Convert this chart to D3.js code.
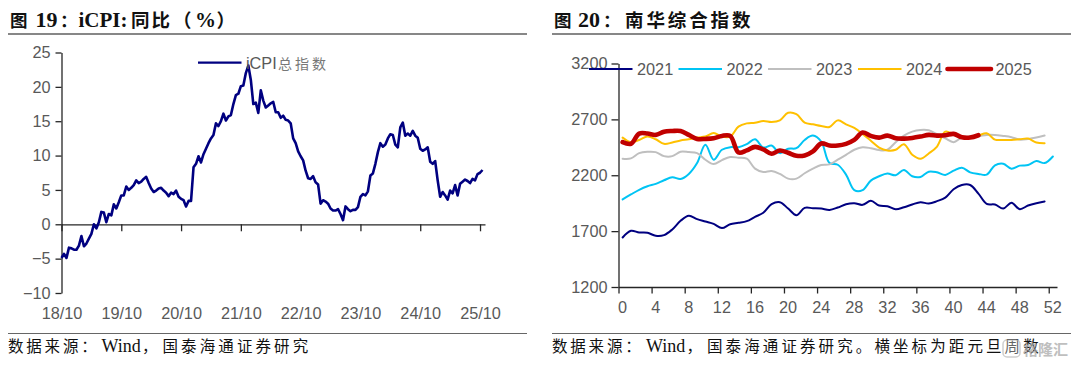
<!DOCTYPE html>
<html lang="zh">
<head>
    <meta charset="UTF-8">
    <title>iCPI 与南华综合指数</title>
    <script src="https://d3js.org/d3.v7.min.js"></script>
    <style>
        html, body { margin: 0; padding: 0; background: #fff; }
        svg { display: block; }
        .tick text, .lab { font-family: "Liberation Sans", Arial, sans-serif; font-size: 16.3px; fill: #595959; }
        .cjk { font-family: "Noto Sans CJK SC", sans-serif; }
        .latin { font-family: "Liberation Serif", serif; }
    </style>
</head>
<body>
    <svg width="1075" height="365"></svg>
    <script>
        // 图 19：半月取样，从 18/10 开始
        const icpiLabels = ["18/10", "19/10", "20/10", "21/10", "22/10", "23/10", "24/10", "25/10"];
        const icpiTicks = [-10, -5, 0, 5, 10, 15, 20, 25];
        const icpiValues = [
            -4.9, -4.3, -4.9, -3.4, -3.5, -3.7, -3.7, -3.1, -1.7, -3.2, -2.8, -2.1, -1.4, 0, -0.6, 0.3, 1.8, 1.7, 0.3, 1.5,
            1.3, 2.9, 2.3, 3.2, 4.2, 4.2, 5.5, 5, 5.3, 5.7, 6.4, 6, 6.2, 6.6, 6.9, 6, 5.2, 4.7, 4.9, 5.2,
            5.3, 4.9, 4.6, 4.1, 4.6, 4.4, 4.9, 4, 3.7, 3.5, 2.6, 3.4, 3.4, 8.3, 8.8, 9.9, 9, 10.2, 11, 11.8,
            12.5, 13, 14.7, 14.3, 15, 16.1, 15.1, 15.7, 15.9, 17.5, 18.8, 19, 20.1, 20.2, 22, 23.1, 21, 17.5, 17.7, 16.2,
            19.5, 18, 17, 17.3, 17.6, 17.8, 16.3, 16.3, 15.5, 15.8, 15.2, 15.1, 14.7, 12.5, 11.8, 10.6, 9.9, 9.3, 7.8, 6.7,
            6.6, 7, 6.1, 5.8, 3, 3.5, 3.3, 3, 2.3, 2, 2, 2.2, 1.5, 0.6, 2.6, 2.2, 1.9, 2.1, 2.1, 2.5,
            4, 4.4, 4.2, 4.8, 7.1, 7.4, 8.8, 10.5, 11.8, 11.3, 11.6, 12.5, 13.1, 13, 11.6, 11.2, 14.1, 14.8, 12.9, 13.2,
            12.9, 13.6, 12.9, 12.6, 11, 10.7, 10.9, 11.2, 9.1, 8.8, 9.2, 6.4, 4, 4.7, 4.2, 3.6, 4.9, 4.5, 5.7, 4.2,
            5.9, 6.2, 6.5, 6.3, 6, 6.6, 6.4, 7.3, 7.5, 7.9
        ];

        // 图 20：按距元旦周数
        const weeks = d3.range(0, 53);
        const weekLabels = d3.range(0, 53, 4);
        const nanhuaTicks = [1200, 1700, 2200, 2700, 3200];
        const y2021 = [1643, 1703, 1688, 1685, 1658, 1664, 1715, 1792, 1837, 1807, 1786, 1765, 1727, 1762, 1774, 1789, 1828, 1864, 1941, 1959, 1902, 1843, 1908, 1905, 1902, 1890, 1911, 1941, 1950, 1935, 1971, 1929, 1923, 1896, 1914, 1938, 1959, 1947, 1968, 2000, 2075, 2113, 2113, 2036, 1944, 1938, 1902, 1953, 1896, 1929, 1950, 1965];
        const y2022 = [1984, 2028, 2070, 2102, 2123, 2155, 2182, 2167, 2212, 2309, 2472, 2339, 2428, 2451, 2451, 2478, 2522, 2448, 2466, 2398, 2437, 2442, 2516, 2555, 2502, 2309, 2294, 2206, 2067, 2067, 2152, 2191, 2215, 2200, 2247, 2191, 2185, 2232, 2226, 2203, 2241, 2268, 2226, 2212, 2206, 2289, 2303, 2259, 2286, 2291, 2327, 2309, 2368];
        const y2023 = [2348, 2351, 2398, 2410, 2407, 2371, 2371, 2410, 2407, 2398, 2339, 2300, 2336, 2363, 2357, 2348, 2259, 2229, 2238, 2212, 2170, 2170, 2218, 2259, 2291, 2297, 2339, 2383, 2428, 2451, 2442, 2425, 2428, 2496, 2555, 2590, 2605, 2602, 2567, 2531, 2496, 2537, 2546, 2549, 2561, 2561, 2552, 2540, 2519, 2525, 2537, 2555];
        const y2024 = [2537, 2496, 2516, 2546, 2522, 2481, 2493, 2511, 2522, 2537, 2546, 2579, 2546, 2546, 2635, 2664, 2670, 2685, 2676, 2691, 2759, 2747, 2670, 2656, 2641, 2632, 2691, 2656, 2623, 2570, 2508, 2448, 2422, 2428, 2478, 2383, 2348, 2395, 2457, 2590, 2567, 2546, 2537, 2555, 2576, 2519, 2516, 2516, 2522, 2528, 2493, 2487];
        const y2025 = [2496, 2481, 2573, 2573, 2561, 2590, 2596, 2596, 2561, 2525, 2525, 2531, 2552, 2552, 2404, 2422, 2454, 2431, 2392, 2422, 2401, 2374, 2377, 2413, 2484, 2466, 2466, 2481, 2516, 2582, 2552, 2537, 2555, 2531, 2528, 2534, 2546, 2561, 2555, 2558, 2570, 2540, 2537, 2558];
        const seriesNames = ["2021", "2022", "2023", "2024", "2025"];
        const seriesValues = [y2021, y2022, y2023, y2024, y2025];
        const seriesColors = ["#000080", "#00C4F4", "#BFBFBF", "#FFC000", "#C00000"];
        const seriesWidths = [2, 2, 2, 2, 4.6];

        const svg = d3.select("svg");
        const axisColor = "#262626";

        function styleAxis(g) {
            g.selectAll(".domain, .tick line").attr("stroke", axisColor).attr("stroke-width", 1.3);
        }

        // 标题、脚注：每段 [文字, 字体类, 字号, 字距, x]
        function richText(y, weight, parts) {
            const t = svg.append("text").attr("y", y).attr("font-weight", weight).attr("fill", "#111");
            parts.forEach(p => {
                t.append("tspan").attr("class", p[1]).attr("font-size", p[2])
                    .attr("letter-spacing", p[3]).attr("x", p[4]).text(p[0]);
            });
        }

        richText(27, 700, [
            ["图", "cjk", 17.5, 0, 10], ["19", "latin", 22, 0, 35.5], ["：", "cjk", 17.5, 0, 60],
            ["iCPI:", "latin", 21, 0, 78.5], ["同比", "cjk", 18.5, 2, 131], ["（", "cjk", 18.5, 0, 173],
            ["%", "latin", 21, 0, 195], ["）", "cjk", 18.5, 0, 216.5]
        ]);
        richText(27, 700, [
            ["图", "cjk", 17.5, 0, 554], ["20", "latin", 22, 0, 578], ["：", "cjk", 17.5, 0, 603],
            ["南华综合指数", "cjk", 18.5, 2.9, 625]
        ]);
        richText(352, 400, [
            ["数据来源：", "cjk", 15.5, 2.8, 8], ["Wind", "latin", 18, 0, 101.5], ["，", "cjk", 15.5, 0, 142],
            ["国泰海通证券研究", "cjk", 15.5, 3.1, 162.5]
        ]);
        richText(352, 400, [
            ["数据来源：", "cjk", 15.5, 2.8, 552], ["Wind", "latin", 18, 0, 646], ["，", "cjk", 15.5, 0, 686.5],
            ["国泰海通证券研究。横坐标为距元旦周数", "cjk", 15.5, 3.1, 707]
        ]);

        [[8, 527], [552, 1071]].forEach(r => {
            svg.append("line").attr("x1", r[0]).attr("x2", r[1]).attr("y1", 34).attr("y2", 34)
                .attr("stroke", "#111").attr("stroke-width", 1.2);
            svg.append("line").attr("x1", r[0]).attr("x2", r[1]).attr("y1", 333.5).attr("y2", 333.5)
                .attr("stroke", "#666").attr("stroke-width", 1.2);
        });

        // ---------- 图 19 ----------
        const xIcpi = d3.scaleLinear().domain([0, 170]).range([61.5, 485]);
        const yIcpi = d3.scaleLinear().domain([-10, 25]).range([293, 52.5]);
        const icpiTickPos = icpiLabels.map((d, i) => i * 24);

        svg.append("g").attr("transform", "translate(61.5,0)")
            .call(d3.axisLeft(yIcpi).tickValues(icpiTicks).tickSize(6).tickPadding(5).tickSizeOuter(0))
            .call(styleAxis);
        svg.append("g").attr("transform", `translate(0,${yIcpi(0)})`)
            .call(d3.axisBottom(xIcpi).tickValues(icpiTickPos).tickSize(7).tickSizeOuter(0).tickFormat(""))
            .call(styleAxis);
        svg.append("g").attr("transform", "translate(0,293)")
            .call(d3.axisBottom(xIcpi).tickValues(icpiTickPos).tickSize(0).tickPadding(14).tickFormat((d, i) => icpiLabels[i]))
            .call(g => g.select(".domain").remove());

        svg.append("path").datum(icpiValues)
            .attr("fill", "none").attr("stroke", "#000080").attr("stroke-width", 2.6).attr("stroke-linejoin", "round")
            .attr("d", d3.line().x((d, i) => xIcpi(i)).y(d => yIcpi(d)));

        svg.append("line").attr("x1", 198).attr("x2", 241.5).attr("y1", 62.7).attr("y2", 62.7)
            .attr("stroke", "#000080").attr("stroke-width", 2.3);
        const icpiLegend = svg.append("text").attr("y", 68.5).attr("fill", "#595959");
        icpiLegend.append("tspan").attr("class", "lab").attr("x", 246).text("iCPI");
        icpiLegend.append("tspan").attr("class", "cjk").attr("x", 278).attr("font-size", 14)
            .attr("letter-spacing", 3).attr("fill", "#777").text("总指数");

        // ---------- 图 20 ----------
        const xBand = d3.scaleBand().domain(weeks).range([618.5, 1057]);
        const xEdge = d3.scaleLinear().domain([0, 53]).range([618.5, 1057]);
        const yNanhua = d3.scaleLinear().domain([1200, 3200]).range([287, 63.5]);
        const xWeek = d => xBand(d) + xBand.bandwidth() / 2;

        svg.append("g").attr("transform", "translate(618.5,0)")
            .call(d3.axisLeft(yNanhua).tickValues(nanhuaTicks).tickSize(7).tickPadding(4).tickSizeOuter(0).tickFormat(d3.format("d")))
            .call(styleAxis);
        svg.append("g").attr("transform", "translate(0,287)")
            .call(d3.axisBottom(xEdge).tickValues(weekLabels).tickSize(6.5).tickSizeOuter(0).tickFormat(""))
            .call(styleAxis);
        svg.append("g").attr("transform", "translate(0,287)")
            .call(d3.axisBottom(xBand).tickValues(weekLabels).tickSize(0).tickPadding(14))
            .call(g => g.select(".domain").remove());

        const nanhuaLine = d3.line()
            .x((d, i) => xWeek(weeks[i]))
            .y(d => yNanhua(d))
            .curve(d3.curveCatmullRom.alpha(0.5));

        svg.selectAll(".series").data(seriesValues).enter().append("path")
            .attr("class", "series")
            .attr("fill", "none")
            .attr("stroke", (d, i) => seriesColors[i])
            .attr("stroke-width", (d, i) => seriesWidths[i])
            .attr("stroke-linecap", "round")
            .attr("stroke-linejoin", "round")
            .attr("d", nanhuaLine);

        // 图例
        const legendX = [589, 678.5, 768, 858, 947.5];
        const legend = svg.selectAll(".legend").data(seriesNames).enter().append("g")
            .attr("class", "legend").attr("transform", (d, i) => `translate(${legendX[i]},69)`);
        legend.append("line").attr("x2", 43.5)
            .attr("stroke", (d, i) => seriesColors[i])
            .attr("stroke-width", (d, i) => seriesWidths[i])
            .attr("stroke-linecap", (d, i) => i === 4 ? "round" : "butt");
        legend.append("text").attr("class", "lab").attr("x", 48).attr("y", 6).text(d => d);

        // 水印
        svg.append("rect").attr("x", 1003).attr("y", 340).attr("width", 17).attr("height", 17).attr("rx", 4)
            .attr("fill", "#fff").attr("fill-opacity", 0.5).attr("stroke", "#bbb").attr("stroke-width", 1.5).attr("opacity", 0.7);
        svg.append("text").attr("class", "cjk").attr("x", 1023).attr("y", 355).attr("font-size", 15)
            .attr("font-weight", 700).attr("fill", "#aaa").attr("opacity", 0.75).text("格隆汇");
    </script>
</body>
</html>
